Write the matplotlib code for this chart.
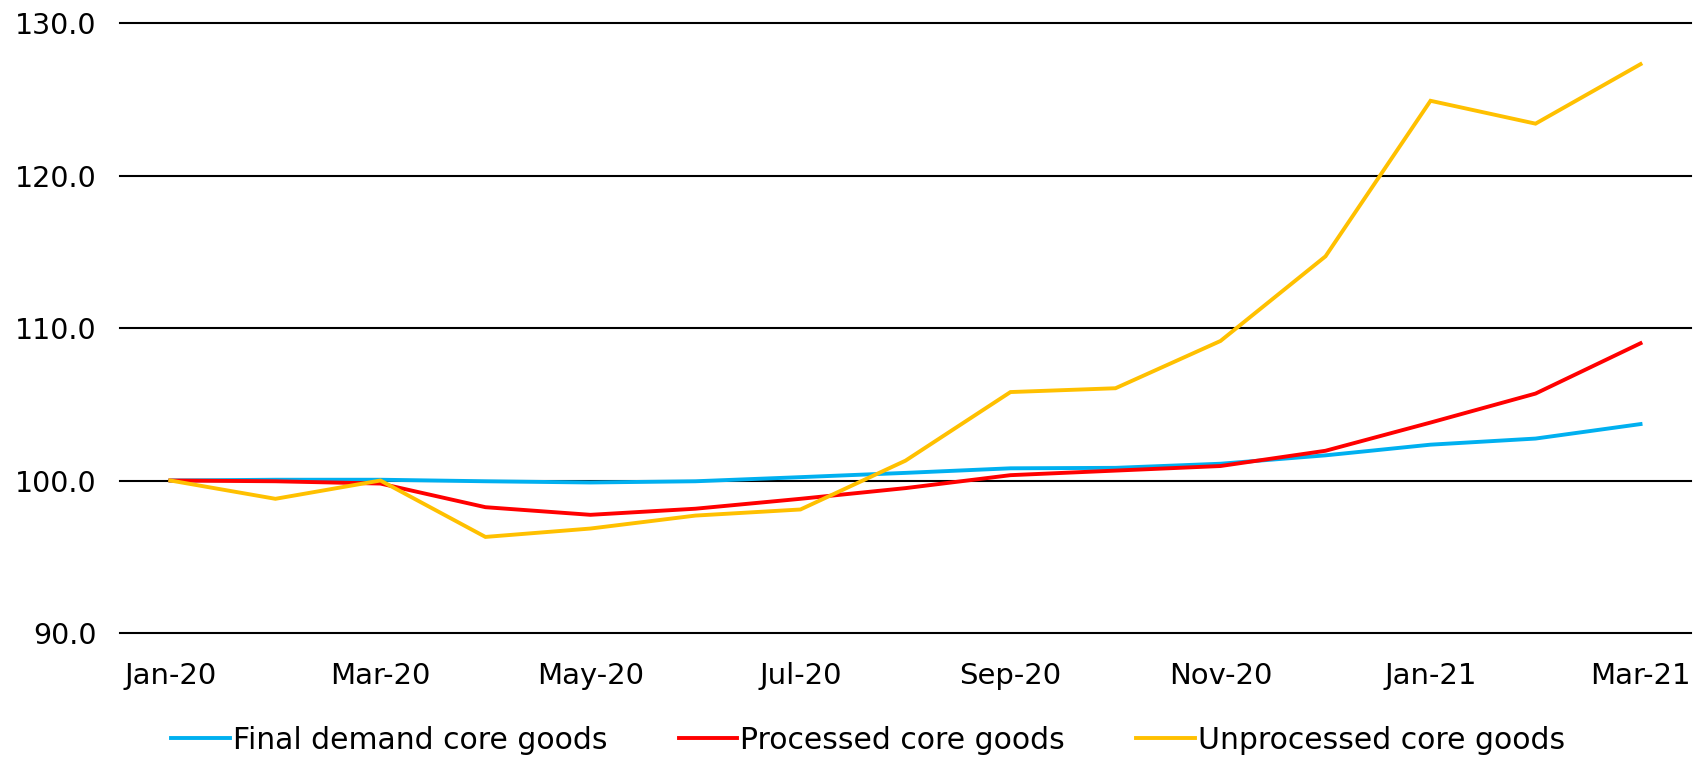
import matplotlib
matplotlib.use("Agg")
import matplotlib.pyplot as plt

months = ["Jan-20", "Feb-20", "Mar-20", "Apr-20", "May-20", "Jun-20", "Jul-20", "Aug-20",
          "Sep-20", "Oct-20", "Nov-20", "Dec-20", "Jan-21", "Feb-21", "Mar-21"]
final_demand = [100.0, 100.05, 100.05, 99.95, 99.87, 99.95, 100.22, 100.5, 100.8, 100.83,
                101.1, 101.65, 102.35, 102.75, 103.7]
processed = [100.0, 99.95, 99.8, 98.25, 97.75, 98.15, 98.8, 99.5, 100.35, 100.65,
             100.95, 101.95, 103.8, 105.7, 109.0]
unprocessed = [100.0, 98.8, 100.0, 96.3, 96.85, 97.7, 98.1, 101.3, 105.8, 106.05,
               109.15, 114.7, 124.9, 123.4, 127.3]
series_names = ["Final demand core goods", "Processed core goods", "Unprocessed core goods"]
yticks = [90, 100, 110, 120, 130]

plt.rcParams['font.family'] = ['DejaVu Sans']

fig = plt.figure(figsize=(17.02, 7.57), dpi=100)
ax = fig.add_axes([0.0705, 0.1638, 0.923, 0.8058])

x = list(range(len(months)))
colors = ["#00B0F0", "#FF0000", "#FFC000"]
for vals, name, c in zip([final_demand, processed, unprocessed], series_names, colors):
    ax.plot(x, vals, color=c, lw=2.8, label=name, solid_joinstyle='miter', zorder=3)

ax.set_ylim(90, 130)
ax.set_xlim(-0.48, 14.48)
ax.set_yticks(yticks)
ax.set_yticklabels([f"{v:.1f}" for v in yticks])
ax.set_xticks(x[::2])
ax.set_xticklabels(months[::2])
for yv in yticks:
    ax.axhline(yv, color="black", lw=1.5, zorder=1, clip_on=False)
for s in ax.spines.values():
    s.set_visible(False)
ax.tick_params(axis='both', length=0, colors='black')
ax.tick_params(axis='x', pad=21, labelsize=21)
ax.tick_params(axis='y', pad=17, labelsize=20.5)

fig.legend(loc='center', bbox_to_anchor=(0.51, 0.022), ncol=3, frameon=False,
           fontsize=21.5, handlelength=1.95, handletextpad=0.1, columnspacing=2.4,
           borderaxespad=0, borderpad=0)

fig.savefig("out.png", dpi=100)
